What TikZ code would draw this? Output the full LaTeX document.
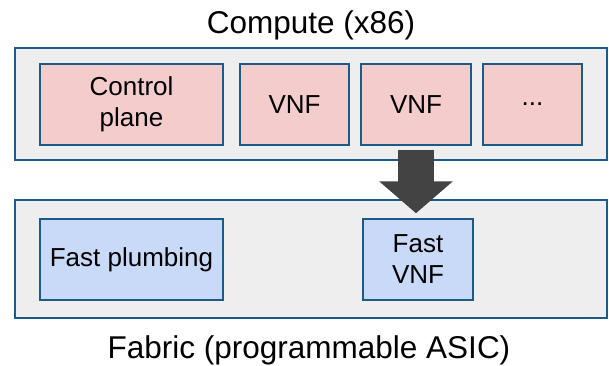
\documentclass[tikz,border=0pt]{standalone}
\usepackage{fontspec}
\setmainfont{Liberation Sans}
\usetikzlibrary{arrows.meta}
\definecolor{bordc}{HTML}{1C5A8A}
\definecolor{contfill}{HTML}{EEEEEE}
\definecolor{pinkf}{HTML}{F4CCCC}
\definecolor{bluef}{HTML}{C9DAF8}
\definecolor{arrowc}{HTML}{434343}
\tikzset{
  container/.style={draw=bordc, line width=1.5pt, fill=contfill, minimum width=592pt, inner sep=0pt},
  box/.style={draw=bordc, line width=1.5pt, minimum height=81pt, inner sep=0pt, align=center,
    font=\fontsize{26}{31}\selectfont},
  pinkbox/.style={box, fill=pinkf},
  bluebox/.style={box, fill=bluef},
  title/.style={anchor=base, font=\fontsize{31.5}{36}\selectfont, inner sep=0pt},
  bigarrow/.style={draw=arrowc, line width=36pt, -{Triangle[length=32pt, width=72pt]}}
}
\begin{document}
\begin{tikzpicture}[x=1pt, y=-1pt]
\useasboundingbox (0,0) rectangle (609,365);
\node[title] (ctitle) at (311,33) {Compute (x86)};
\node[title] (ftitle) at (309,358) {Fabric (programmable ASIC)};
\node[container, minimum height=112pt] (top) at (311,104) {};
\node[container, minimum height=118pt] (bot) at (311,259) {};
\node[pinkbox, minimum width=183pt] (cp) at (131.5,104.5) {Control\\plane};
\node[pinkbox, minimum width=109pt] (vnf1) at (294.5,104.5) {VNF};
\node[pinkbox, minimum width=110pt] (vnf2) at (416,104.5) {VNF};
\node[pinkbox, minimum width=99pt] (dots) at (532.5,104.5) {...};
\node[bluebox, minimum width=183pt] (fp) at (131.5,259.5) {Fast plumbing};
\node[bluebox, minimum width=110pt] (fvnf) at (418,259.5) {Fast\\VNF};
\draw[bigarrow, shorten <=4pt, shorten >=5pt] (vnf2.south) -- (vnf2.south |- fvnf.north);
\end{tikzpicture}
\end{document}
